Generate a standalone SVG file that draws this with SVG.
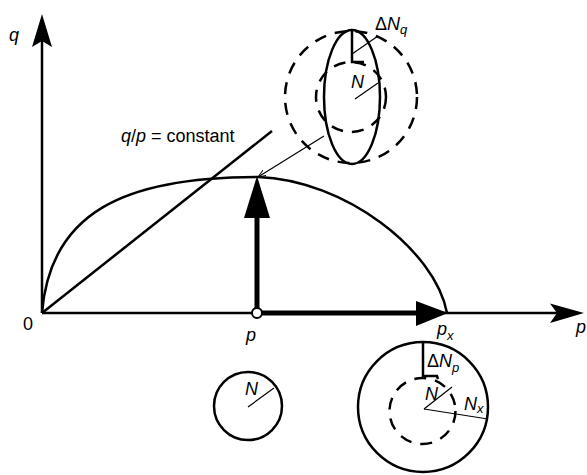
<svg xmlns="http://www.w3.org/2000/svg" width="587" height="475" viewBox="0 0 587 475">
<style>
.ln{fill:none;stroke:#000;stroke-width:2.5}
.th{fill:none;stroke:#000;stroke-width:1.2}
.bd{fill:none;stroke:#000;stroke-width:5}
.ds{fill:none;stroke:#000;stroke-width:2.5;stroke-dasharray:12 9}
.hd{fill:#000;stroke:none}
text{font-family:"Liberation Sans",Arial,sans-serif;font-size:18px;fill:#000}
.it{font-style:italic}
.sb{font-size:13px;font-style:italic}
</style>
<defs>
<marker id="sa" viewBox="0 0 10 10" refX="10" refY="5" markerWidth="8" markerHeight="8" markerUnits="userSpaceOnUse" orient="auto">
<path d="M0,1 L10,5 L0,9" fill="none" stroke="#000" stroke-width="1.2"/>
</marker>
</defs>
<rect width="587" height="475" fill="#fff"/>
<g id="connectors">
<line class="ln" x1="42" y1="313" x2="42" y2="40"/>
<polygon class="hd" points="42,14 52,47 42,41 32,47"/>
<line class="ln" x1="42" y1="313" x2="560" y2="313"/>
<polygon class="hd" points="584,313 550,303.5 557,313 550,323"/>
<path class="ln" d="M42,313 C50,212 125,177 258,177 C345,180 435,250 447,313"/>
<line class="ln" x1="42" y1="313" x2="272" y2="131"/>
<line class="th" x1="324" y1="136" x2="258" y2="177" marker-end="url(#sa)"/>
<line class="bd" x1="257" y1="308" x2="257" y2="214"/>
<polygon class="hd" points="257,176 270,218 244,218"/>
<line class="bd" x1="262" y1="313" x2="418" y2="313"/>
<polygon class="hd" points="448,313 416,301 416,326"/>
<circle cx="257" cy="313" r="5" fill="#fff" stroke="#000" stroke-width="2"/>
</g>
<g id="labels">
<text class="it" x="9" y="41">q</text>
<text x="23" y="330">0</text>
<text class="it" x="576" y="333">p</text>
<text class="it" x="246" y="341">p</text>
<text x="437" y="335" class="it">p<tspan class="sb" dy="5">x</tspan></text>
<text x="121" y="142"><tspan class="it">q</tspan>/<tspan class="it">p</tspan> = constant</text>
</g>
<g id="node-top">
<circle class="ds" cx="351" cy="97" r="66"/>
<circle class="ds" cx="351" cy="97" r="35"/>
<ellipse class="ln" cx="352" cy="97" rx="28" ry="67"/>
<polyline class="ln" points="352,30 352,62 364,62"/>
<line class="th" x1="352" y1="54" x2="378" y2="36"/>
<line class="th" x1="355" y1="99" x2="378" y2="83"/>
<text x="375" y="30">Δ<tspan class="it">N</tspan><tspan class="sb" dy="4">q</tspan></text>
<text class="it" x="351" y="88">N</text>
</g>
<g id="node-small">
<circle class="ln" cx="248" cy="406" r="34"/>
<line class="th" x1="248" y1="407" x2="274" y2="388"/>
<text class="it" x="245" y="395">N</text>
</g>
<g id="node-big">
<circle class="ln" cx="423" cy="407" r="65"/>
<circle class="ds" cx="422.5" cy="411" r="33"/>
<polyline class="ln" points="423,342 423,376 437,376 438,379"/>
<line class="th" x1="424" y1="409" x2="452" y2="387"/>
<line class="th" x1="424" y1="409" x2="488" y2="419"/>
<text x="427" y="367">Δ<tspan class="it">N</tspan><tspan class="sb" dy="5">p</tspan></text>
<text class="it" x="425" y="400">N</text>
<text x="464" y="410" class="it">N<tspan class="sb" dy="3">x</tspan></text>
</g>
</svg>
